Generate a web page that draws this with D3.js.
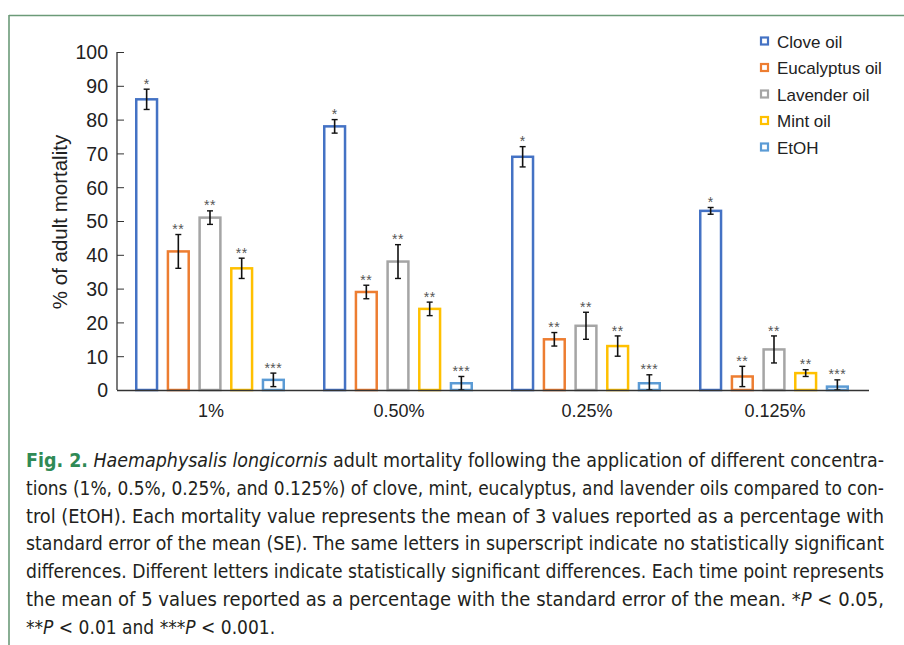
<!DOCTYPE html>
<html><head><meta charset="utf-8">
<script src="https://cdn.jsdelivr.net/npm/d3@7"></script>
<style>body{margin:0;background:#fff;overflow:hidden}</style>
</head><body><svg id="c" width="904" height="645"></svg>
<script>
const categories = ["1%", "0.50%", "0.25%", "0.125%"];
const seriesNames = ["Clove oil", "Eucalyptus oil", "Lavender oil", "Mint oil", "EtOH"];
const seriesColors = ["#4472C4", "#ED7D31", "#A5A5A5", "#FFC000", "#5B9BD5"];
const clove = [86, 78, 69, 53];
const cloveSE = [3, 2, 3, 1];
const eucalyptus = [41, 29, 15, 4];
const eucalyptusSE = [5, 2, 2, 3];
const lavender = [51, 38, 19, 12];
const lavenderSE = [2, 5, 4, 4];
const mint = [36, 24, 13, 5];
const mintSE = [3, 2, 3, 1];
const etoh = [3, 2, 2, 1];
const etohSE = [2, 2, 2.5, 2];
const starLabels = ["*", "**", "**", "**", "***"];
const yTicks = [0, 10, 20, 30, 40, 50, 60, 70, 80, 90, 100];
const yLabel = "% of adult mortality";

const values = [clove, eucalyptus, lavender, mint, etoh];
const errors = [cloveSE, eucalyptusSE, lavenderSE, mintSE, etohSE];

const svg = d3.select("#c");
const font = "'Liberation Sans', Arial, Helvetica, sans-serif";

// frame
svg.append("line").attr("x1", 9).attr("x2", 904).attr("y1", 15.5).attr("y2", 15.5)
  .attr("stroke", "#6b9a78").attr("stroke-width", 1.6);
svg.append("line").attr("x1", 9).attr("x2", 9).attr("y1", 15).attr("y2", 645)
  .attr("stroke", "#6b9a78").attr("stroke-width", 1.6);

const x0 = d3.scaleBand().domain(categories).range([117, 869]).padding(0);
const x1 = d3.scaleBand().domain(seriesNames).range([18, 168]).paddingInner(0.265).paddingOuter(0);
const y = d3.scaleLinear().domain([0, 100]).range([390, 52]);

// y axis
const yAxis = d3.axisRight(y).tickValues(yTicks).tickSize(7).tickFormat(d3.format("d"));
const ya = svg.append("g").attr("transform", "translate(117,0)").call(yAxis);
ya.select(".domain").attr("stroke", "#333").attr("stroke-width", 1.3).attr("d", "M0,52V390");
ya.selectAll(".tick line").attr("stroke", "#333").attr("stroke-width", 1);
ya.selectAll(".tick text").attr("x", -9).attr("text-anchor", "end")
  .attr("font-family", font).attr("font-size", 19.5).attr("fill", "#222").attr("dy", "0.35em");

svg.append("text").attr("transform", "translate(67,222) rotate(-90)")
  .attr("text-anchor", "middle").attr("font-family", font).attr("font-size", 20.5)
  .attr("fill", "#222").text(yLabel);

// bars
const groups = svg.append("g").selectAll("g").data(categories).join("g")
  .attr("transform", d => `translate(${x0(d)},0)`);

seriesNames.forEach((s, si) => {
  const g = groups.append("g");
  g.append("rect")
    .attr("x", (d) => x1(s) + 1.25)
    .attr("width", x1.bandwidth() - 2.5)
    .attr("y", (d, i) => y(values[si][i]))
    .attr("height", (d, i) => y(0) - y(values[si][i]))
    .attr("fill", "#fff").attr("stroke", seriesColors[si]).attr("stroke-width", 2.5);
  const cx = x1(s) + x1.bandwidth() / 2;
  const hi = (i) => y(values[si][i] + errors[si][i]);
  const lo = (i) => y(Math.max(0, values[si][i] - errors[si][i]));
  g.append("line").attr("x1", cx).attr("x2", cx)
    .attr("y1", (d, i) => hi(i)).attr("y2", (d, i) => lo(i))
    .attr("stroke", "#111").attr("stroke-width", 1.6);
  g.append("line").attr("x1", cx - 3).attr("x2", cx + 3)
    .attr("y1", (d, i) => hi(i)).attr("y2", (d, i) => hi(i))
    .attr("stroke", "#111").attr("stroke-width", 1.4);
  g.append("line").attr("x1", cx - 3).attr("x2", cx + 3)
    .attr("y1", (d, i) => lo(i)).attr("y2", (d, i) => lo(i))
    .attr("stroke", "#111").attr("stroke-width", 1.4);
  g.append("text").attr("x", cx).attr("y", (d, i) => hi(i) + 1)
    .attr("text-anchor", "middle").attr("font-family", font).attr("font-size", 14)
    .attr("letter-spacing", 0.5)
    .attr("fill", "#555").attr("dy", "-0.1em").text(starLabels[si]);
});

// x axis
svg.append("line").attr("x1", 117).attr("x2", 869).attr("y1", 390.5).attr("y2", 390.5)
  .attr("stroke", "#333").attr("stroke-width", 1.5);
const xAxis = d3.axisBottom(x0).tickSize(0);
const xa = svg.append("g").attr("transform", "translate(0,390)").call(xAxis);
xa.select(".domain").remove();
xa.selectAll(".tick text").attr("y", 0).attr("dy", 26.5).attr("font-family", font)
  .attr("font-size", 18).attr("fill", "#222");

// legend
const leg = svg.append("g");
seriesNames.forEach((s, i) => {
  const cy = 41 + i * 26.5;
  leg.append("rect").attr("x", 761).attr("y", cy - 3.5).attr("width", 7).attr("height", 7)
    .attr("fill", "#fff").attr("stroke", seriesColors[i]).attr("stroke-width", 2.2);
  leg.append("text").attr("x", 777).attr("y", cy + 6.5).attr("font-family", font)
    .attr("font-size", 17).attr("fill", "#222").text(s);
});

// caption
const capFont = "'DejaVu Sans Condensed', 'Liberation Sans Narrow', 'Roboto', sans-serif";
const capLines = [
  [["Fig. 2.", "b"], [" ", ""], ["Haemaphysalis longicornis", "i"], [" adult mortality following the application of different concentra-", ""]],
  [["tions (1%, 0.5%, 0.25%, and 0.125%) of clove, mint, eucalyptus, and lavender oils compared to con-", ""]],
  [["trol (EtOH). Each mortality value represents the mean of 3 values reported as a percentage with", ""]],
  [["standard error of the mean (SE). The same letters in superscript indicate no statistically significant", ""]],
  [["differences. Different letters indicate statistically significant differences. Each time point represents", ""]],
  [["the mean of 5 values reported as a percentage with the standard error of the mean. *", ""], ["P", "i"], [" < 0.05,", ""]],
  [["**", ""], ["P", "i"], [" < 0.01 and ***", ""], ["P", "i"], [" < 0.001.", ""]]
];
capLines.forEach((line, li) => {
  const t = svg.append("text").attr("x", 26).attr("y", 467 + li * 27.8)
    .attr("font-family", capFont).attr("font-size", 19).attr("fill", "#231f20")
    .attr("xml:space", "preserve");
  if (li < 6) t.attr("textLength", 858).attr("lengthAdjust", "spacingAndGlyphs");
  line.forEach(([str, st]) => {
    const ts = t.append("tspan").text(str);
    if (st === "b") ts.attr("font-weight", "bold").attr("fill", "#2f8a55");
    if (st === "i") ts.attr("font-style", "italic");
  });
});
</script></body></html>
